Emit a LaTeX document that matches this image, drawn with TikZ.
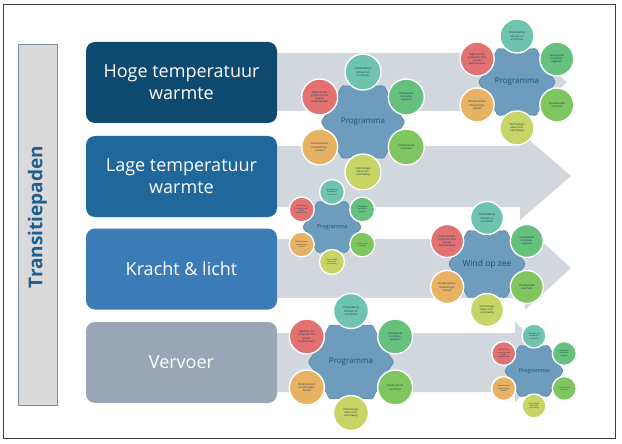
\documentclass[tikz,border=0pt]{standalone}
\usepackage{fontspec}
\setmainfont{Open Sans}
\usetikzlibrary{shadows}
\definecolor{cA}{HTML}{0E4A6F}
\definecolor{cB}{HTML}{20679C}
\definecolor{cC}{HTML}{3B7CB7}
\definecolor{cD}{HTML}{9AA6B5}
\definecolor{bandgrey}{HTML}{D3D8DF}
\definecolor{leftfill}{HTML}{DADADA}
\definecolor{leftdraw}{HTML}{7F8FA0}
\definecolor{titleblue}{HTML}{1F5F8F}
\definecolor{hexfill}{HTML}{6E9CBD}
\definecolor{hexdraw}{HTML}{4F7FA3}
\definecolor{lblblue}{HTML}{1F4E79}
\definecolor{bubtext}{HTML}{1D3B4F}
\definecolor{bteal}{HTML}{6FC4AE}
\definecolor{bgreenA}{HTML}{66C17F}
\definecolor{bgreenB}{HTML}{80C660}
\definecolor{byellow}{HTML}{C6D566}
\definecolor{borange}{HTML}{E8B264}
\definecolor{bred}{HTML}{E27272}
\tikzset{
  catbox/.style={rounded corners=9pt, minimum width=191pt, minimum height=81pt,
    text=white, align=center, font=\fontsize{18}{22}\selectfont, inner sep=0pt},
  bub/.style={circle, draw=white, line width=1.4pt, inner sep=0pt, align=center,
    text=bubtext, drop shadow={opacity=0.3, shadow xshift=0.7pt, shadow yshift=-0.7pt}},
  hexpath/.style={fill=hexfill, draw=hexdraw, line width=0.5pt, rounded corners=1.5pt},
  band/.style={fill=bandgrey},
  bigtxt/.style={font=\fontsize{2.7}{3.2}\selectfont},
  smalltxt/.style={font=\fontsize{1.9}{2.3}\selectfont},
  biglbl/.style={font=\fontsize{8}{9}\selectfont},
  smalllbl/.style={font=\fontsize{5.5}{6}\selectfont},
  windlbl/.style={font=\fontsize{8.5}{9}\selectfont},
}
\newcommand\cluster[8]{%
\begin{scope}[shift={(#2,#3)}]
  \filldraw[hexpath] (0:{0.84*#4}) -- (30:{0.7*#4}) -- (60:{0.84*#4}) -- (90:{0.7*#4}) -- (120:{0.84*#4}) -- (150:{0.7*#4}) -- (180:{0.84*#4}) -- (210:{0.7*#4}) -- (240:{0.84*#4}) -- (270:{0.7*#4}) -- (300:{0.84*#4}) -- (330:{0.7*#4}) -- cycle;
  \node[#8, text=lblblue] (#1-c) at (0,0) {#7};
  \node[bub, fill=bteal, minimum size=#5pt, #6] (#1-t) at (0,-#4) {Ontwikkeling\\klimaat en\\economie};
  \node[bub, fill=bgreenA, minimum size=#5pt, #6] (#1-ur) at ({0.866*#4},{-0.5*#4}) {Uitdagende\\innovatie-\\opgaven};
  \node[bub, fill=bgreenB, minimum size=#5pt, #6] (#1-lr) at ({0.866*#4},{0.5*#4}) {Faciliterende\\overheid};
  \node[bub, fill=byellow, minimum size=#5pt, #6] (#1-b) at (0,#4) {Technologie\\klaar voor\\opschaling};
  \node[bub, fill=borange, minimum size=#5pt, #6] (#1-ll) at ({-0.866*#4},{0.5*#4}) {Ondernemers\\investerings-\\bereid};
  \node[bub, fill=bred, minimum size=#5pt, #6] (#1-ul) at ({-0.866*#4},{-0.5*#4}) {Rijpheid van\\projecten met\\goede\\businesscase};
\end{scope}}
\begin{document}
\begin{tikzpicture}[x=1pt,y=-1pt]
\useasboundingbox (0,0) rectangle (622,444);
\fill[white] (0,0) rectangle (622,444);
\draw[black!75, line width=0.8pt] (3,4) rectangle (615,438);
% bands
\fill[band] (270,53) -- (520,53) -- (520,41) -- (567,82) -- (520,123) -- (520,111) -- (270,111) -- cycle;
\fill[band] (270,146) -- (520,146) -- (520,132) -- (571,176) -- (520,220) -- (520,207) -- (270,207) -- cycle;
\fill[band] (270,239) -- (525,239) -- (525,226) -- (571,268) -- (525,310) -- (525,298) -- (270,298) -- cycle;
\fill[band] (270,333) -- (515,333) -- (515,322) -- (556,362) -- (515,402) -- (515,392) -- (270,392) -- cycle;
% left title box
\node[fill=leftfill, draw=leftdraw, line width=0.6pt, minimum width=39pt, minimum height=361pt, inner sep=0pt] (side) at (37.5,224.5) {};
\node[rotate=90, text=titleblue, font=\fontsize{19}{21}\selectfont\bfseries] (title) at (37.5,217) {Transitiepaden};
% category boxes
\node[catbox, fill=cA] (hoge) at (181.5,82.5) {Hoge temperatuur\\warmte};
\node[catbox, fill=cB] (lage) at (181.5,176.5) {Lage temperatuur\\warmte};
\node[catbox, fill=cC] (kracht) at (181.5,269) {Kracht \& licht};
\node[catbox, fill=cD] (vervoer) at (181.5,362.5) {Vervoer};
% clusters
\cluster{pc}{332}{227}{35}{25}{smalltxt}{Programma}{smalllbl}
\cluster{pa}{363}{122}{50}{36}{bigtxt}{Programma}{biglbl}
\cluster{pb}{517}{82}{46}{34}{bigtxt}{Programma}{biglbl}
\cluster{pd}{487}{264}{46}{33}{bigtxt}{Wind op zee}{windlbl}
\cluster{pe}{351}{362}{51}{35}{bigtxt}{Programma}{biglbl}
\cluster{pf}{534}{371}{35}{24}{smalltxt}{Programma}{smalllbl}
\end{tikzpicture}
\end{document}
